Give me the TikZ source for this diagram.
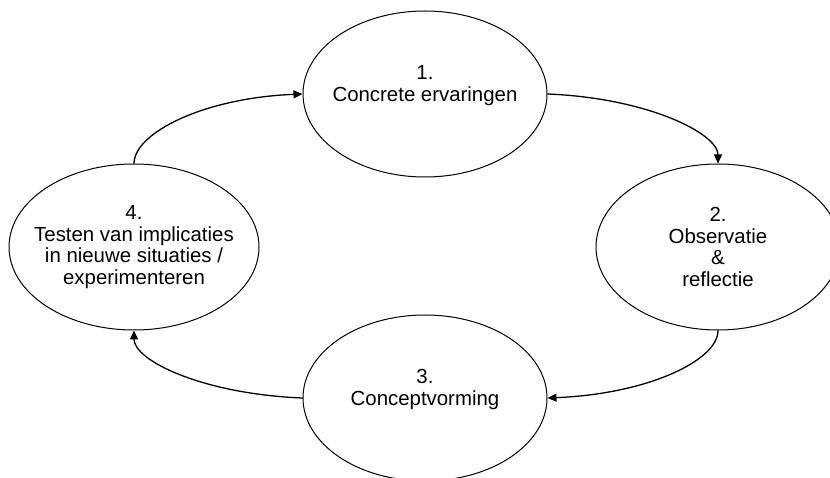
\documentclass[tikz,border=0pt]{standalone}
\usepackage{fontspec}
\setmainfont{Liberation Sans}
\usetikzlibrary{arrows.meta, shapes.geometric}
\begin{document}
\begin{tikzpicture}[x=1pt, y=1pt, line join=round, line cap=round,
	stap/.style={draw, ellipse, line width=1pt, minimum width=244, minimum height=166, inner sep=0pt},
	tekst/.style={align=center, inner sep=0pt, font=\fontsize{20.4}{21.5}\selectfont},
	pijl/.style={line width=1.3pt, -{Triangle[length=9pt, width=8pt]}}]
	\clip (0,0) rectangle (830,477);
	% de vier stappen van de cyclus
	\node[stap, label={[tekst, name=t1]center:1.\\Concrete ervaringen\\~}] (ervaring) at (425,383) {};
	\node[stap, label={[tekst, name=t2]center:2.\\Observatie\\\&\\reflectie}] (reflectie) at (718,230) {};
	\node[stap, label={[tekst, name=t3]center:3.\\Conceptvorming\\~}] (concept) at (425,79) {};
	\node[stap, minimum width=250, label={[tekst, name=t4]center:4.\\Testen van implicaties\\in nieuwe situaties /\\experimenteren}] (testen) at (134,230) {};
	
	% Pijlen rondom
	\draw[pijl] (ervaring.east) .. controls +(100,-4) and +(0,30) .. (reflectie.north);
	\draw[pijl] (reflectie.south) .. controls +(0,-30) and +(100,4) .. (concept.east);
	\draw[pijl] (concept.west) .. controls +(-100,4) and +(0,-30) .. (testen.south);
	\draw[pijl] (testen.north) .. controls +(0,30) and +(-100,-4) .. (ervaring.west);
\end{tikzpicture}
\end{document}
